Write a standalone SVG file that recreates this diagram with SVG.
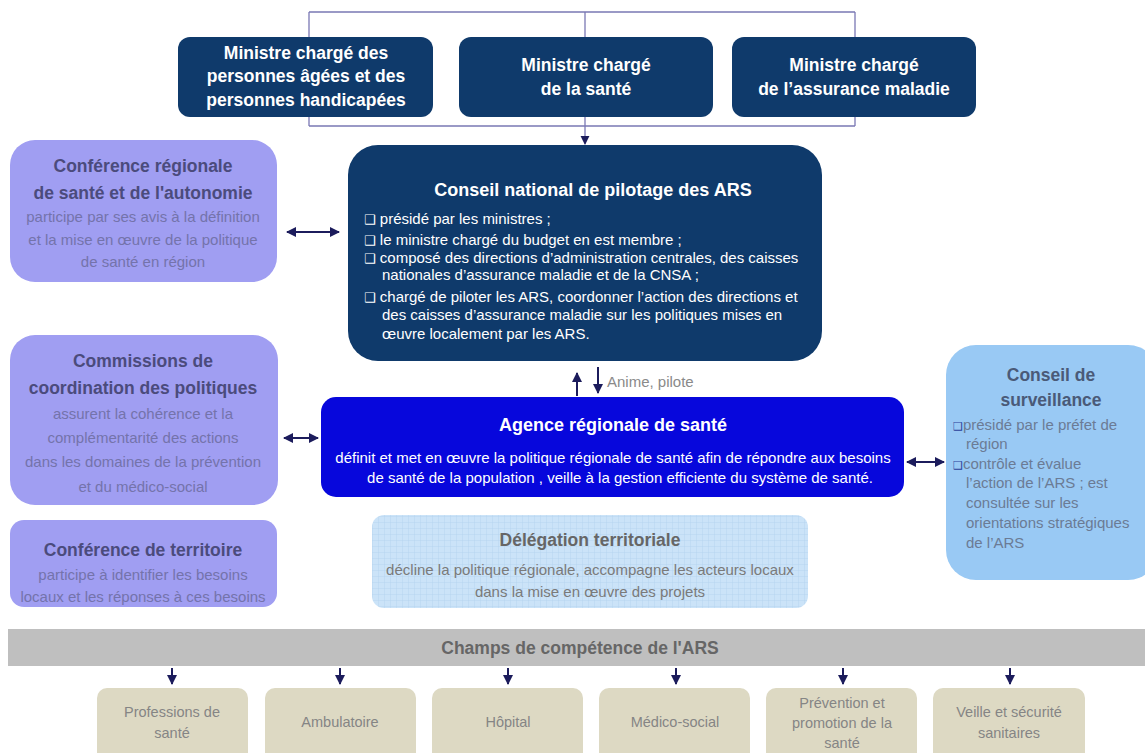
<svg xmlns="http://www.w3.org/2000/svg" width="1145" height="753" viewBox="0 0 1145 753">
<defs>
<marker id="ah" viewBox="0 0 10 10" refX="9" refY="5" markerWidth="5" markerHeight="5" orient="auto-start-reverse"><path d="M0,0 L10,5 L0,10 z" fill="#1c1c5c"/></marker>
<marker id="ahs" viewBox="0 0 10 10" refX="9" refY="5" markerWidth="7" markerHeight="7" orient="auto-start-reverse"><path d="M0,0 L10,5 L0,10 z" fill="#1c1c5c"/></marker>
<pattern id="grid" width="6" height="6" patternUnits="userSpaceOnUse"><rect width="6" height="6" fill="#cbe3f8"/><path d="M6,0 L0,0 L0,6" fill="none" stroke="#b2d2ef" stroke-width="0.8"/></pattern>
</defs>
<style>
text{font-family:"Liberation Sans",Arial,sans-serif;text-anchor:middle}
.navy{fill:#0f3a6b}
.wt{fill:#ffffff;font-weight:bold;font-size:17.5px}
.wb{fill:#ffffff;font-size:15px;text-anchor:start}
.purp{fill:#a09ef2}
.pt{fill:#4b4b7c;font-weight:bold;font-size:17.5px}
.pb{fill:#7473ab;font-size:15px}
.blue{fill:#99c9f4}
.bt{fill:#4a5a78;font-weight:bold;font-size:17.5px}
.bb{fill:#6b7b95;font-size:15px;text-anchor:start}
.gt{fill:#666666;font-weight:bold;font-size:17.5px}
.gb{fill:#7a7a7a;font-size:15px}
.beige{fill:#ddd9c3}
.bt2{fill:#858585;font-size:14.5px}
.bul{font-family:"DejaVu Sans",sans-serif}
.con{stroke:#1c1c5c;stroke-width:2;fill:none}
.br{stroke:#7a78b4;stroke-width:1.3;fill:none}
</style>
<rect width="1145" height="753" fill="#ffffff"/>

<g id="connectors">
<path class="br" d="M309,12 H855 M309,12 V126 M855,12 V126 M309,126 H855"/>
<path class="br" d="M585,12 V144" stroke="#1c1c5c" marker-end="url(#ahs)"/>
<path class="con" d="M287,232 H339" marker-start="url(#ah)" marker-end="url(#ah)"/>
<path class="con" d="M284,438 H318" marker-start="url(#ah)" marker-end="url(#ah)"/>
<path class="con" d="M907,462 H944" marker-start="url(#ah)" marker-end="url(#ah)"/>
<path class="con" d="M577,396 V373" marker-end="url(#ah)"/>
<path class="con" d="M598,367 V393" marker-end="url(#ah)"/>
<path class="con" d="M172,668 V684" marker-end="url(#ah)"/>
<path class="con" d="M340,668 V684" marker-end="url(#ah)"/>
<path class="con" d="M508,668 V684" marker-end="url(#ah)"/>
<path class="con" d="M676,668 V684" marker-end="url(#ah)"/>
<path class="con" d="M843,668 V684" marker-end="url(#ah)"/>
<path class="con" d="M1010,668 V684" marker-end="url(#ah)"/>
<text x="607" y="387" style="fill:#8a8a8a;font-size:15px;text-anchor:start">Anime, pilote</text>
</g>

<g id="min-pa">
<rect class="navy" x="178" y="37" width="255" height="80" rx="12"/>
<text class="wt" x="306" y="59">Ministre chargé des</text>
<text class="wt" x="306" y="82">personnes âgées et des</text>
<text class="wt" x="306" y="106">personnes handicapées</text>
</g>
<g id="min-sante">
<rect class="navy" x="459" y="37" width="254" height="80" rx="12"/>
<text class="wt" x="586" y="71">Ministre chargé</text>
<text class="wt" x="586" y="95">de la santé</text>
</g>
<g id="min-am">
<rect class="navy" x="732" y="37" width="244" height="80" rx="12"/>
<text class="wt" x="854" y="71">Ministre chargé</text>
<text class="wt" x="854" y="95">de l’assurance maladie</text>
</g>

<g id="cnp">
<rect class="navy" x="348" y="145" width="474" height="216" rx="30"/>
<text x="593" y="196" style="fill:#fff;font-weight:bold;font-size:18px">Conseil national de pilotage des ARS</text>
<text class="wb" x="364" y="224"><tspan class="bul" font-size="13">❑</tspan> présidé par les ministres ;</text>
<text class="wb" x="364" y="245"><tspan class="bul" font-size="13">❑</tspan> le ministre chargé du budget en est membre ;</text>
<text class="wb" x="364" y="263"><tspan class="bul" font-size="13">❑</tspan> composé des directions d’administration centrales, des caisses</text>
<text class="wb" x="382" y="280">nationales d’assurance maladie et de la CNSA ;</text>
<text class="wb" x="364" y="302"><tspan class="bul" font-size="13">❑</tspan> chargé de piloter les ARS, coordonner l’action des directions et</text>
<text class="wb" x="382" y="320">des caisses d’assurance maladie sur les politiques mises en</text>
<text class="wb" x="382" y="339">œuvre localement par les ARS.</text>
</g>

<g id="crsa">
<rect class="purp" x="10" y="140" width="267" height="142" rx="25"/>
<text class="pt" x="143" y="172">Conférence régionale</text>
<text class="pt" x="143" y="199">de santé et de l'autonomie</text>
<text class="pb" x="143" y="222">participe par ses avis à la définition</text>
<text class="pb" x="143" y="245">et la mise en œuvre de la politique</text>
<text class="pb" x="143" y="267">de santé en région</text>
</g>

<g id="commissions">
<rect class="purp" x="10" y="335" width="268" height="170" rx="25"/>
<text class="pt" x="143" y="367">Commissions  de</text>
<text class="pt" x="143" y="394">coordination des politiques</text>
<text class="pb" x="143" y="419">assurent la cohérence et la</text>
<text class="pb" x="143" y="443">complémentarité des actions</text>
<text class="pb" x="143" y="467">dans les domaines de la prévention</text>
<text class="pb" x="143" y="492">et du médico-social</text>
</g>

<g id="conf-territoire">
<rect class="purp" x="10" y="520" width="267" height="87" rx="14"/>
<text class="pt" x="143" y="556">Conférence de territoire</text>
<text class="pb" x="143" y="580">participe à identifier les besoins</text>
<text class="pb" x="143" y="602">locaux et les réponses à ces besoins</text>
</g>

<g id="ars">
<rect x="321" y="397" width="583" height="100" rx="15" fill="#0707dc"/>
<text x="613" y="431" style="fill:#fff;font-weight:bold;font-size:18px">Agence régionale de santé</text>
<text x="613" y="463" style="fill:#fff;font-size:15px">définit et met en œuvre la politique régionale de santé afin de répondre aux besoins</text>
<text x="620" y="483" style="fill:#fff;font-size:15px">de santé de la population ,  veille à la gestion efficiente du système de santé.</text>
</g>

<g id="delegation">
<rect x="372" y="515" width="436" height="93" rx="12" fill="url(#grid)"/>
<text class="gt" x="590" y="546">Délégation territoriale</text>
<text class="gb" x="590" y="575">décline la politique régionale, accompagne les acteurs locaux</text>
<text class="gb" x="590" y="597">dans la mise en œuvre des projets</text>
</g>

<g id="surveillance">
<rect class="blue" x="946" y="345" width="212" height="235" rx="30"/>
<text class="bt" x="1051" y="381">Conseil de</text>
<text class="bt" x="1051" y="406">surveillance</text>
<text class="bb" x="953" y="430"><tspan class="bul" font-size="11" fill="#2b3f9a">❑</tspan>présidé par le préfet de</text>
<text class="bb" x="966" y="449">région</text>
<text class="bb" x="953" y="469"><tspan class="bul" font-size="11" fill="#2b3f9a">❑</tspan>contrôle et évalue</text>
<text class="bb" x="966" y="488">l’action  de l’ARS ; est</text>
<text class="bb" x="966" y="508">consultée sur les</text>
<text class="bb" x="966" y="528">orientations stratégiques</text>
<text class="bb" x="966" y="548">de l’ARS</text>
</g>

<g id="champs">
<rect x="8" y="629" width="1145" height="37" fill="#bfbfbf"/>
<text x="580" y="654" style="fill:#666;font-weight:bold;font-size:17.5px">Champs de compétence de l'ARS</text>
</g>

<g id="f-professions">
<rect class="beige" x="97" y="688" width="151" height="75" rx="10"/>
<text class="bt2" x="172" y="717">Professions de</text>
<text class="bt2" x="172" y="738">santé</text>
</g>
<g id="f-ambulatoire">
<rect class="beige" x="265" y="688" width="151" height="75" rx="10"/>
<text class="bt2" x="340" y="727">Ambulatoire</text>
</g>
<g id="f-hopital">
<rect class="beige" x="432" y="688" width="151" height="75" rx="10"/>
<text class="bt2" x="508" y="727">Hôpital</text>
</g>
<g id="f-medico">
<rect class="beige" x="599" y="688" width="151" height="75" rx="10"/>
<text class="bt2" x="675" y="727">Médico-social</text>
</g>
<g id="f-prevention">
<rect class="beige" x="766" y="688" width="151" height="75" rx="10"/>
<text class="bt2" x="842" y="708">Prévention et</text>
<text class="bt2" x="842" y="728">promotion de la</text>
<text class="bt2" x="842" y="748">santé</text>
</g>
<g id="f-veille">
<rect class="beige" x="933" y="688" width="152" height="75" rx="10"/>
<text class="bt2" x="1009" y="717">Veille et sécurité</text>
<text class="bt2" x="1009" y="738">sanitaires</text>
</g>
</svg>
